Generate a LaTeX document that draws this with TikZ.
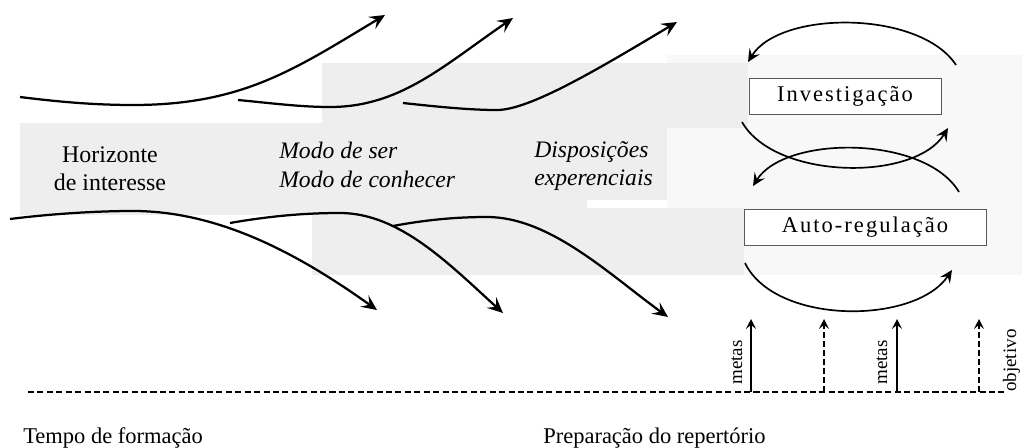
\documentclass[tikz,border=0pt]{standalone}
\usepackage{fontspec}
\setmainfont{Liberation Serif}
\newfontfamily\spacedfont[LetterSpace=9]{Liberation Serif}
\usetikzlibrary{arrows.meta}
\definecolor{bandgray}{gray}{0.935}
\definecolor{faintgray}{gray}{0.972}
\begin{document}
\begin{tikzpicture}[x=0.025cm,y=-0.025cm,
  curve/.style={line width=1.6pt},
  bigtip/.style={-{Stealth[length=11pt,width=10pt,inset=4.5pt]}},
  arcline/.style={line width=1.2pt},
  arctip/.style={-{Stealth[length=9pt,width=8.5pt,inset=3.5pt]}},
  vtip/.style={-{Stealth[length=7pt,width=7pt,inset=2.8pt]}},
  vline/.style={line width=1.3pt},
  dashline/.style={line width=1.3pt,dash pattern=on 4.3pt off 2.4pt},
  lbl/.style={font=\fontsize{17}{19}\selectfont,inner sep=0pt},
  ilbl/.style={font=\fontsize{16.8}{19}\selectfont\itshape,inner sep=0pt},
  blbl/.style={font=\fontsize{16}{19}\selectfont,inner sep=0pt},
  slbl/.style={font=\fontsize{13.5}{15}\selectfont,inner sep=0pt,rotate=90,anchor=base west},
  boxnode/.style={draw=black!65,line width=0.6pt,fill=white,inner sep=0pt,
    minimum height=0.9cm,font=\fontsize{16}{19}\selectfont\spacedfont}
]
\useasboundingbox (0,0) rectangle (1022,448);
% shaded background bands
\fill[faintgray] (667,55) rectangle (1022,275);
\fill[bandgray] (20,123) rectangle (322,215);
\fill[bandgray] (322,63) rectangle (748,128);
\fill[bandgray] (315,128) rectangle (667,200);
\fill[bandgray] (312,200) rectangle (587,208);
\fill[bandgray] (312,208) rectangle (744,275);

% coordinates of curve ends
\coordinate (a0) at (20,97);   \coordinate (a1) at (133,105); \coordinate (a2) at (385,15);
\coordinate (b0) at (238,100); \coordinate (b1) at (330,107); \coordinate (b2) at (513,18);
\coordinate (c0) at (403,103); \coordinate (c1) at (497,110); \coordinate (c2) at (677,22);
\coordinate (d0) at (10,219);  \coordinate (d1) at (133,211); \coordinate (d2) at (377,310);
\coordinate (e0) at (230,223); \coordinate (e1) at (340,213); \coordinate (e2) at (503,313);
\coordinate (f0) at (393,226); \coordinate (f1) at (487,217); \coordinate (f2) at (668,317);

\draw[curve,bigtip] (a0) .. controls (60,102) and (95,105) .. (a1) .. controls (243,105) and (295,69) .. (a2);
\draw[curve,bigtip] (b0) .. controls (270,103) and (300,107) .. (b1) .. controls (400,107) and (443,66) .. (b2);
\draw[curve,bigtip] (c0) .. controls (440,107) and (470,110) .. (c1) .. controls (530,110) and (600,68) .. (c2);
\draw[curve,bigtip] (d0) .. controls (50,214) and (95,211) .. (d1) .. controls (220,211) and (300,255) .. (d2);
\draw[curve,bigtip] (e0) .. controls (270,216) and (305,213) .. (e1) .. controls (400,213) and (450,265) .. (e2);
\draw[curve,bigtip] (f0) .. controls (425,220) and (455,217) .. (f1) .. controls (550,217) and (610,275) .. (f2);

% labels
\node[lbl,anchor=base] (hz1) at (110,162) {Horizonte};
\node[lbl,anchor=base] (hz2) at (110,190) {de interesse};
\node[ilbl,anchor=base west] (md1) at (279,158) {Modo de ser};
\node[ilbl,anchor=base west] (md2) at (279,187) {Modo de conhecer};
\node[ilbl,anchor=base west] (dp1) at (534,157) {Disposições};
\node[ilbl,anchor=base west] (dp2) at (534,185) {experenciais};

% boxes
\node[boxnode,minimum width=4.8cm] (inv) at (845,96) {Investigação};
\node[boxnode,minimum width=6.05cm] (auto) at (865,227) {Auto-regulação};

% cycle arcs
\coordinate (t0) at (956,65);  \coordinate (t1) at (748,62);
\coordinate (s0) at (742,122); \coordinate (s1) at (948,128);
\coordinate (r0) at (959,192); \coordinate (r1) at (753,186);
\coordinate (u0) at (745,263); \coordinate (u1) at (952,270);
\draw[arcline,arctip] (t0) .. controls (920,10) and (780,10) .. (t1);
\draw[arcline,arctip] (s0) .. controls (775,180) and (915,182) .. (s1);
\draw[arcline,arctip] (r0) .. controls (925,135) and (785,135) .. (r1);
\draw[arcline,arctip] (u0) .. controls (775,325) and (915,325) .. (u1);

% time line
\coordinate (l0) at (28,392); \coordinate (l1) at (1006,392);
\draw[dashline] (l0) -- (l1);
\coordinate (v1b) at (751,392); \coordinate (v1t) at (751,319);
\coordinate (v2b) at (824,392); \coordinate (v2t) at (824,319);
\coordinate (v3b) at (897,392); \coordinate (v3t) at (897,319);
\coordinate (v4b) at (979,392); \coordinate (v4t) at (979,319);
\draw[vline,vtip] (v1b) -- (v1t);
\draw[vline,vtip,dash pattern=on 4pt off 2.4pt] (v2b) -- (v2t);
\draw[vline,vtip] (v3b) -- (v3t);
\draw[vline,vtip,dash pattern=on 4pt off 2.4pt] (v4b) -- (v4t);
\node[slbl] (mt1) at (742,385) {metas};
\node[slbl] (mt2) at (887,385) {metas};
\node[slbl] (obj) at (1016,392) {objetivo};

\node[blbl,anchor=base west] (tf) at (23,443) {Tempo de formação};
\node[blbl,anchor=base west] (pr) at (543,443) {Preparação do repertório};
\end{tikzpicture}
\end{document}
